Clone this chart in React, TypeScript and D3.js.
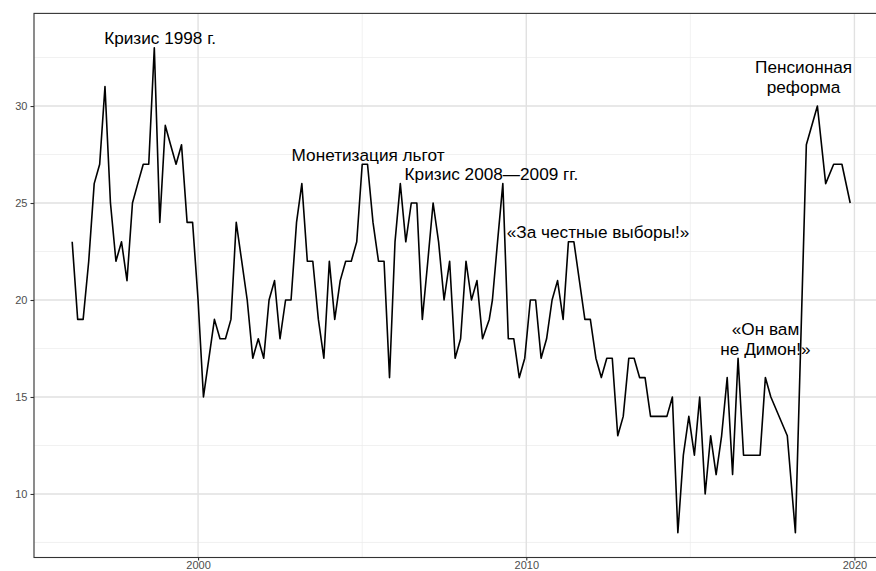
import React, { useEffect, useRef } from "react";
import * as d3 from "d3";

// Protest readiness, % (survey series), 1996–2019

const dates = [
  "1996-03-01", "1996-05-01", "1996-07-01", "1996-09-01", "1996-11-01",
  "1997-01-01", "1997-03-01", "1997-05-01", "1997-07-01", "1997-09-01", "1997-11-01",
  "1998-01-01", "1998-03-01", "1998-05-01", "1998-07-01", "1998-09-01", "1998-11-01",
  "1999-01-01", "1999-03-01", "1999-05-01", "1999-07-01", "1999-09-01", "1999-11-01",
  "2000-01-01", "2000-03-01", "2000-05-01", "2000-07-01", "2000-09-01", "2000-11-01",
  "2001-01-01", "2001-03-01", "2001-05-01", "2001-07-01", "2001-09-01", "2001-11-01",
  "2002-01-01", "2002-03-01", "2002-05-01", "2002-07-01", "2002-09-01", "2002-11-01",
  "2003-01-01", "2003-03-01", "2003-05-01", "2003-07-01", "2003-09-01", "2003-11-01",
  "2004-01-01", "2004-03-01", "2004-05-01", "2004-07-01", "2004-09-01", "2004-11-01",
  "2005-01-01", "2005-03-01", "2005-05-01", "2005-07-01", "2005-09-01", "2005-11-01",
  "2006-01-01", "2006-03-01", "2006-05-01", "2006-07-01", "2006-09-01", "2006-11-01",
  "2007-01-01", "2007-03-01", "2007-05-01", "2007-07-01", "2007-09-01", "2007-11-01",
  "2008-01-01", "2008-03-01", "2008-05-01", "2008-07-01", "2008-09-01", "2008-11-15",
  "2008-12-20", "2009-02-15", "2009-04-15", "2009-06-15", "2009-08-15", "2009-10-15",
  "2009-12-15", "2010-02-15", "2010-04-15", "2010-06-15", "2010-08-15", "2010-10-15",
  "2010-12-15", "2011-02-15", "2011-04-15", "2011-06-15", "2011-08-15", "2011-10-15",
  "2011-12-15", "2012-02-15", "2012-04-15", "2012-06-15", "2012-08-15", "2012-10-15",
  "2012-12-15", "2013-02-15", "2013-04-15", "2013-06-15", "2013-08-15", "2013-10-15",
  "2013-12-15", "2014-02-15", "2014-04-15", "2014-06-15", "2014-08-15", "2014-10-15",
  "2014-12-15", "2015-02-15", "2015-04-15", "2015-06-15", "2015-08-15", "2015-10-15",
  "2015-12-15", "2016-02-15", "2016-04-15", "2016-06-15", "2016-08-15", "2016-10-15",
  "2016-12-15", "2017-02-15", "2017-04-15", "2017-06-15", "2017-12-15", "2018-03-15",
  "2018-07-15", "2018-11-15", "2019-02-15", "2019-05-15", "2019-08-15", "2019-11-15",
];

const values = [
  23, 19, 19, 22, 26,
  27, 31, 25, 22, 23, 21,
  25, 26, 27, 27, 33, 24,
  29, 28, 27, 28, 24, 24,
  20, 15, 17, 19, 18, 18,
  19, 24, 22, 20, 17, 18,
  17, 20, 21, 18, 20, 20,
  24, 26, 22, 22, 19, 17,
  22, 19, 21, 22, 22, 23,
  27, 27, 24, 22, 22, 16,
  23, 26, 23, 25, 25, 19,
  22, 25, 23, 20, 22, 17,
  18, 22, 20, 21, 18, 19,
  20, 23, 26, 18, 18, 16,
  17, 20, 20, 17, 18, 20,
  21, 19, 23, 23, 21, 19,
  19, 17, 16, 17, 17, 13,
  14, 17, 17, 16, 16, 14,
  14, 14, 14, 15, 8, 12,
  14, 12, 15, 10, 13, 11,
  13, 16, 11, 17, 12, 12,
  12, 12, 16, 15, 13, 8,
  28, 30, 26, 27, 27, 25,
];

const noteLines = [
  ["Кризис 1998 г."],
  ["Монетизация льгот"],
  ["Кризис 2008—2009 гг."],
  ["«За честные выборы!»"],
  ["«Он вам", "не Димон!»"],
  ["Пенсионная", "реформа"],
];
const noteDates = ["1998-11-05", "2005-03-07", "2008-12-09", "2012-03-10", "2017-04-16", "2018-06-14"];
const noteValues = [33.5, 27.5, 26.5, 23.5, 18, 31.5];

const xMajor = ["2000-01-01", "2010-01-01", "2020-01-01"];
const xMinor = ["1995-01-01", "2005-01-01", "2015-01-01"];
const yMajor = [10, 15, 20, 25, 30];
const yMinor = [7.5, 12.5, 17.5, 22.5, 27.5, 32.5];

const App = () => {
  const svgRef = useRef(null);

  useEffect(() => {
    const width = 876;
    const height = 571;
    const parse = d3.timeParse("%Y-%m-%d");

    const svg = d3.select(svgRef.current);
    svg.selectAll("*").remove();

    const x = d3.scaleTime()
      .domain([parse("1995-01-01"), parse("2021-01-01")])
      .range([34, 887.3]);

    const y = d3.scaleLinear()
      .domain([6.725, 34.775])
      .range([557.5, 13.4]);

    const [x0, x1] = x.range();
    const [y0, y1] = y.range();

    svg.append("rect")
      .attr("width", width).attr("height", height).attr("fill", "#fff");

    // grid
    const grid = svg.append("g");
    grid.selectAll(".ymin").data(yMinor).join("line")
      .attr("x1", x0).attr("x2", x1)
      .attr("y1", d => y(d)).attr("y2", d => y(d))
      .attr("stroke", "#ebebeb").attr("stroke-width", 0.7);
    grid.selectAll(".xmin").data(xMinor).join("line")
      .attr("x1", d => x(parse(d))).attr("x2", d => x(parse(d)))
      .attr("y1", y0).attr("y2", y1)
      .attr("stroke", "#ebebeb").attr("stroke-width", 0.7);
    grid.selectAll(".ymaj").data(yMajor).join("line")
      .attr("x1", x0).attr("x2", x1)
      .attr("y1", d => y(d)).attr("y2", d => y(d))
      .attr("stroke", "#e1e1e1").attr("stroke-width", 1.4);
    grid.selectAll(".xmaj").data(xMajor).join("line")
      .attr("x1", d => x(parse(d))).attr("x2", d => x(parse(d)))
      .attr("y1", y0).attr("y2", y1)
      .attr("stroke", "#e1e1e1").attr("stroke-width", 1.4);

    // series
    const points = dates.map((d, i) => ({ date: parse(d), value: values[i] }));
    const line = d3.line()
      .x(d => x(d.date))
      .y(d => y(d.value));

    svg.append("path")
      .datum(points)
      .attr("d", line)
      .attr("fill", "none")
      .attr("stroke", "#000")
      .attr("stroke-width", 1.6)
      .attr("stroke-linejoin", "round");

    // annotations
    const notes = svg.append("g")
      .attr("font-family", "'Liberation Sans', Arial, sans-serif")
      .attr("font-size", 17.2)
      .attr("text-anchor", "middle")
      .attr("fill", "#000");
    noteLines.forEach((lines, i) => {
      const cx = x(parse(noteDates[i]));
      const cy = y(noteValues[i]);
      const t = notes.append("text").attr("x", cx);
      if (lines.length === 1) {
        t.attr("y", cy + 6).text(lines[0]);
      } else {
        t.append("tspan").attr("x", cx).attr("y", cy - 4).text(lines[0]);
        t.append("tspan").attr("x", cx).attr("y", cy + 16.5).text(lines[1]);
      }
    });

    // panel border
    svg.append("rect")
      .attr("x", x0).attr("y", y1)
      .attr("width", x1 - x0).attr("height", y0 - y1)
      .attr("fill", "none").attr("stroke", "#333").attr("stroke-width", 1.1);

    // axes
    const yAxis = svg.append("g")
      .attr("transform", `translate(${x0},0)`)
      .call(d3.axisLeft(y).tickValues(yMajor).tickSize(3.5).tickPadding(3));
    const xAxis = svg.append("g")
      .attr("transform", `translate(0,${y0})`)
      .call(d3.axisBottom(x).tickValues(xMajor.map(parse)).tickSize(3).tickPadding(0.5)
        .tickFormat(d3.timeFormat("%Y")));

    [yAxis, xAxis].forEach(g => {
      g.select(".domain").remove();
      g.selectAll(".tick line").attr("stroke", "#333").attr("stroke-width", 1.1);
      g.selectAll(".tick text")
        .attr("fill", "#4d4d4d")
        .attr("font-size", 11)
        .attr("font-family", "'Liberation Sans', Arial, sans-serif");
    });
  }, []);

  return (
    <svg
      ref={svgRef}
      width={876}
      height={571}
      style={{ position: "absolute", left: 0, top: 0 }}
    ></svg>
  );
};

export default App;
